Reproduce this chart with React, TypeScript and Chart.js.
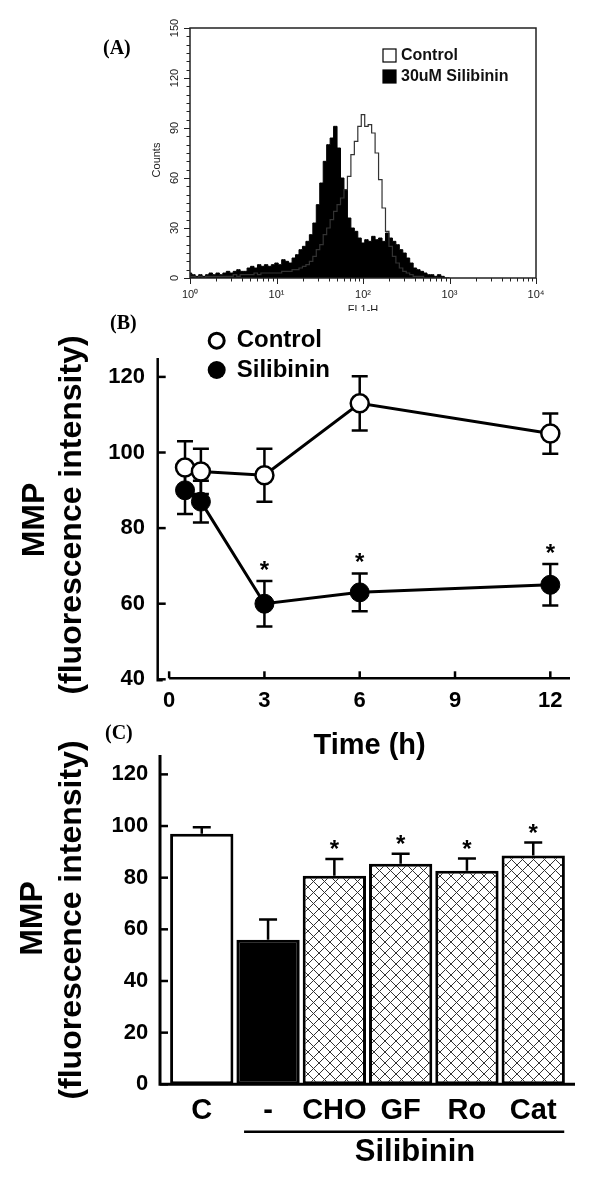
import React, { useEffect, useRef } from "react";
import { Chart, registerables } from "chart.js";

Chart.register(...registerables);

const SANS = '"Liberation Sans", Arial, Helvetica, sans-serif';
const SERIF = '"Liberation Serif", "Times New Roman", serif';

// ---------------- Panel A: flow cytometry histogram ----------------
const flChannels = [
  1.0, 1.096, 1.202, 1.318, 1.445, 1.585, 1.738, 1.905, 2.089, 2.291,
  2.512, 2.754, 3.02, 3.311, 3.631, 3.981, 4.365, 4.786, 5.248, 5.754,
  6.31, 6.918, 7.586, 8.318, 9.12, 10.0, 10.96, 12.02, 13.18, 14.45,
  15.85, 17.38, 19.05, 20.89, 22.91, 25.12, 27.54, 30.2, 33.11, 36.31,
  39.81, 43.65, 47.86, 52.48, 57.54, 63.1, 69.18, 75.86, 83.18, 91.2,
  100.0, 109.6, 120.2, 131.8, 144.5, 158.5, 173.8, 190.5, 208.9, 229.1,
  251.2, 275.4, 302.0, 331.1, 363.1, 398.1, 436.5, 478.6, 524.8, 575.4,
  631.0, 691.8, 758.6, 831.8, 912.0, 1000.0,
];
const silibininCounts = [
  3, 2, 1, 2, 1, 2, 3, 2, 3, 2,
  3, 4, 3, 4, 5, 4, 4, 6, 7, 6,
  8, 7, 8, 7, 8, 9, 8, 11, 10, 9,
  12, 14, 17, 19, 22, 26, 33, 44, 57, 70,
  80, 84, 91, 78, 60, 53, 36, 30, 28, 24,
  21, 23, 22, 25, 23, 24, 22, 27, 24, 22,
  20, 17, 15, 12, 9, 6, 5, 4, 3, 2,
  2, 1, 2, 1, 0, 0,
];
const controlCounts = [
  1, 1, 0, 1, 0, 1, 1, 1, 1, 1,
  1, 1, 1, 2, 1, 2, 2, 2, 2, 3,
  2, 3, 3, 3, 3, 3, 3, 4, 4, 4,
  5, 5, 6, 7, 8, 10, 13, 17, 20, 26,
  30, 35, 40, 44, 48, 53, 61, 74, 82, 91,
  98, 91, 92, 87, 75, 59, 42, 28, 19, 13,
  9, 6, 4, 3, 2, 1, 1, 1, 0, 0,
  0, 0, 0, 0, 0, 0,
];
const histSeriesLabels = ["Control", "30uM Silibinin"];
const histXTicks = [1, 10, 100, 1000, 10000];
const histXTickLabels = ["10\u2070", "10\u00B9", "10\u00B2", "10\u00B3", "10\u2074"];
const histYTicks = [0, 30, 60, 90, 120, 150];
const histXTitle = "FL1-H";
const histYTitle = "Counts";

// ---------------- Panel B: MMP time course ----------------
const timePoints = [0.5, 1, 3, 6, 12];
const controlMMP = [96, 95, 94, 113, 105];
const controlSD = [7, 6, 7, 7.2, 5.3];
const silibininMMP = [90, 87, 60, 63, 65];
const silibininSD = [6.3, 5.5, 6, 5, 5.5];
const silibininStar = [false, false, true, true, true];
const timeTicks = [0, 3, 6, 9, 12];
const mmpTicksB = [40, 60, 80, 100, 120];
const lineSeriesLabels = ["Control", "Silibinin"];
const timeTitle = "Time (h)";

// ---------------- Panel C: treatments ----------------
const treatments = ["C", "-", "CHO", "GF", "Ro", "Cat"];
const treatmentMMP = [97, 56, 80.7, 85.4, 82.7, 88.6];
const treatmentSD = [2.5, 7.8, 6.5, 3.9, 4.7, 5.0];
const treatmentStar = [false, false, true, true, true, true];
const mmpTicksC = [0, 20, 40, 60, 80, 100, 120];
const groupLabel = "Silibinin";

const yTitleLines = ["MMP", "(fluorescence intensity)"];

// ---------------- helpers ----------------
function drawRotated(ctx: any, text: string, x: number, y: number, font: string) {
  ctx.save();
  ctx.translate(x, y);
  ctx.rotate(-Math.PI / 2);
  ctx.font = font;
  ctx.textAlign = "center";
  ctx.textBaseline = "middle";
  ctx.fillText(text, 0, 0);
  ctx.restore();
}

function drawStar(ctx: any, x: number, y: number) {
  ctx.save();
  ctx.fillStyle = "#000";
  ctx.font = `bold 24px ${SANS}`;
  ctx.textAlign = "center";
  ctx.textBaseline = "middle";
  ctx.fillText("*", x, y);
  ctx.restore();
}

function makeHatch(): any {
  const s = 11;
  const c = document.createElement("canvas");
  c.width = s;
  c.height = s;
  const g = c.getContext("2d")!;
  g.fillStyle = "#fff";
  g.fillRect(0, 0, s, s);
  g.strokeStyle = "#333";
  g.lineWidth = 1;
  g.beginPath();
  g.moveTo(-1, -1);
  g.lineTo(s + 1, s + 1);
  g.moveTo(s + 1, -1);
  g.lineTo(-1, s + 1);
  g.stroke();
  return g.createPattern(c, "repeat");
}

const hiddenGrid = { display: false, drawTicks: false };
const hiddenBorder = { display: false };

// ---------------- configs ----------------
function histogramConfig(): any {
  const decor = {
    id: "histDecor",
    afterDraw(chart: any) {
      const { ctx, chartArea: a } = chart;
      const x = chart.scales.x;
      const y = chart.scales.y;
      ctx.save();
      ctx.strokeStyle = "#222";
      ctx.lineWidth = 1.5;
      ctx.strokeRect(a.left, a.top, a.right - a.left, a.bottom - a.top);
      ctx.lineWidth = 1;
      // y ticks (outward)
      for (let v = 0; v <= 150; v += 5) {
        const py = Math.round(y.getPixelForValue(v)) + 0.5;
        const len = v % 30 === 0 ? 6 : 3.5;
        ctx.beginPath();
        ctx.moveTo(a.left, py);
        ctx.lineTo(a.left - len, py);
        ctx.stroke();
      }
      // x ticks (outward)
      for (let d = 1; d <= 10000; d *= 10) {
        for (let m = 1; m < 10; m++) {
          const v = d * m;
          if (v > 10000) break;
          const px = Math.round(x.getPixelForValue(v)) + 0.5;
          const len = m === 1 ? 6 : 3.5;
          ctx.beginPath();
          ctx.moveTo(px, a.bottom);
          ctx.lineTo(px, a.bottom + len);
          ctx.stroke();
        }
      }
      // y tick labels, rotated
      ctx.fillStyle = "#222";
      histYTicks.forEach((v) => {
        drawRotated(ctx, String(v), 175, y.getPixelForValue(v), `11px ${SANS}`);
      });
      drawRotated(ctx, histYTitle, 157, 160, `11px ${SANS}`);
      // x title
      ctx.font = `11px ${SANS}`;
      ctx.textAlign = "center";
      ctx.textBaseline = "top";
      ctx.fillText(histXTitle, (a.left + a.right) / 2, 304);
      // panel label
      ctx.fillStyle = "#000";
      ctx.font = `bold 20px ${SERIF}`;
      ctx.textAlign = "left";
      ctx.textBaseline = "middle";
      ctx.fillText("(A)", 103, 49);
      // legend
      const ds = chart.data.datasets;
      const rows = [55.5, 76.5];
      ds.forEach((d: any, i: number) => {
        const ty = rows[i];
        ctx.fillStyle = i === 0 ? "#fff" : "#000";
        ctx.fillRect(383, ty - 6.5, 13, 13);
        ctx.strokeStyle = "#000";
        ctx.lineWidth = 1.2;
        ctx.strokeRect(383, ty - 6.5, 13, 13);
        ctx.fillStyle = "#111";
        ctx.font = `bold 16px ${SANS}`;
        ctx.textAlign = "left";
        ctx.textBaseline = "middle";
        ctx.fillText(d.label, 401, ty);
      });
      ctx.restore();
    },
  };
  return {
    type: "line",
    data: {
      datasets: [
        {
          label: histSeriesLabels[0],
          data: flChannels.map((v, i) => ({ x: v, y: controlCounts[i] })),
          borderColor: "#333",
          borderWidth: 1.2,
          pointRadius: 0,
          fill: false,
          stepped: "middle",
        },
        {
          label: histSeriesLabels[1],
          data: flChannels.map((v, i) => ({ x: v, y: silibininCounts[i] })),
          borderColor: "#000",
          backgroundColor: "#000",
          borderWidth: 1,
          pointRadius: 0,
          fill: "origin",
          stepped: "middle",
        },
      ],
    },
    options: {
      animation: false,
      responsive: false,
      devicePixelRatio: 1,
      events: [],
      layout: { padding: { top: 28, right: 64, left: 0, bottom: 0 } },
      plugins: { legend: { display: false }, tooltip: { enabled: false } },
      scales: {
        x: {
          type: "logarithmic",
          min: 1,
          max: 10000,
          grid: hiddenGrid,
          border: hiddenBorder,
          afterBuildTicks: (s: any) => {
            s.ticks = histXTicks.map((v) => ({ value: v }));
          },
          afterFit: (s: any) => {
            s.height = 311 - 278;
          },
          ticks: {
            autoSkip: false,
            maxRotation: 0,
            minRotation: 0,
            padding: 10,
            color: "#222",
            font: { family: SANS, size: 11 },
            callback: (v: any) => histXTickLabels[histXTicks.indexOf(Number(v))] ?? "",
          },
        },
        y: {
          min: 0,
          max: 150,
          grid: hiddenGrid,
          border: hiddenBorder,
          afterBuildTicks: (s: any) => {
            s.ticks = histYTicks.map((v) => ({ value: v }));
          },
          afterFit: (s: any) => {
            s.width = 190;
          },
          ticks: { display: false },
        },
      },
    },
    plugins: [decor],
  };
}

function timeCourseConfig(): any {
  const sds = [controlSD, silibininSD];
  const decor = {
    id: "timeDecor",
    beforeDatasetsDraw(chart: any) {
      const { ctx } = chart;
      const x = chart.scales.x;
      const y = chart.scales.y;
      ctx.save();
      ctx.strokeStyle = "#000";
      ctx.lineWidth = 2.5;
      chart.data.datasets.forEach((d: any, di: number) => {
        d.data.forEach((p: any, i: number) => {
          const px = x.getPixelForValue(p.x);
          const top = y.getPixelForValue(p.y + sds[di][i]);
          const bot = y.getPixelForValue(p.y - sds[di][i]);
          ctx.beginPath();
          ctx.moveTo(px, top);
          ctx.lineTo(px, bot);
          ctx.moveTo(px - 8, top);
          ctx.lineTo(px + 8, top);
          ctx.moveTo(px - 8, bot);
          ctx.lineTo(px + 8, bot);
          ctx.stroke();
        });
      });
      ctx.restore();
    },
    afterDraw(chart: any) {
      const { ctx, chartArea: a } = chart;
      const x = chart.scales.x;
      const y = chart.scales.y;
      ctx.save();
      ctx.strokeStyle = "#000";
      ctx.fillStyle = "#000";
      ctx.lineWidth = 2.5;
      // axes
      ctx.beginPath();
      ctx.moveTo(a.left, a.top);
      ctx.lineTo(a.left, a.bottom + 1);
      ctx.lineTo(a.left + 5, a.bottom + 1);
      ctx.moveTo(x.getPixelForValue(0), a.bottom - 1);
      ctx.lineTo(a.right, a.bottom - 1);
      ctx.stroke();
      mmpTicksB.forEach((v) => {
        const py = y.getPixelForValue(v);
        ctx.beginPath();
        ctx.moveTo(a.left, py);
        ctx.lineTo(a.left + 8, py);
        ctx.stroke();
      });
      timeTicks.forEach((v) => {
        const px = x.getPixelForValue(v);
        ctx.beginPath();
        ctx.moveTo(px, a.bottom - 1);
        ctx.lineTo(px, a.bottom - 8);
        ctx.stroke();
      });
      // significance
      timePoints.forEach((t, i) => {
        if (!silibininStar[i]) return;
        const capTop = y.getPixelForValue(silibininMMP[i] + silibininSD[i]);
        drawStar(ctx, x.getPixelForValue(t), capTop - 10);
      });
      // legend
      const ds = chart.data.datasets;
      const rows = [40.7, 70];
      ds.forEach((d: any, i: number) => {
        const cy = rows[i];
        ctx.beginPath();
        if (i === 0) {
          ctx.arc(216.7, cy, 7.5, 0, Math.PI * 2);
          ctx.fillStyle = "#fff";
          ctx.fill();
          ctx.lineWidth = 3;
          ctx.strokeStyle = "#000";
          ctx.stroke();
        } else {
          ctx.arc(216.7, cy, 9, 0, Math.PI * 2);
          ctx.fillStyle = "#000";
          ctx.fill();
        }
        ctx.fillStyle = "#000";
        ctx.font = `bold 24px ${SANS}`;
        ctx.textAlign = "left";
        ctx.textBaseline = "middle";
        ctx.fillText(d.label, 236.7, cy);
      });
      // panel label
      ctx.font = `bold 20px ${SERIF}`;
      ctx.textAlign = "left";
      ctx.fillText("(B)", 110, 24);
      // titles
      ctx.font = `bold 29px ${SANS}`;
      ctx.textAlign = "center";
      ctx.fillText(timeTitle, (x.getPixelForValue(0) + a.right) / 2, 446);
      drawRotated(ctx, yTitleLines[0], 35, 220, `bold 32px ${SANS}`);
      drawRotated(ctx, yTitleLines[1], 72, 215, `bold 32px ${SANS}`);
      ctx.restore();
    },
  };
  return {
    type: "line",
    data: {
      datasets: [
        {
          label: lineSeriesLabels[0],
          data: timePoints.map((t, i) => ({ x: t, y: controlMMP[i] })),
          borderColor: "#000",
          borderWidth: 3,
          pointRadius: 9,
          pointBackgroundColor: "#fff",
          pointBorderColor: "#000",
          pointBorderWidth: 2.5,
          fill: false,
        },
        {
          label: lineSeriesLabels[1],
          data: timePoints.map((t, i) => ({ x: t, y: silibininMMP[i] })),
          borderColor: "#000",
          borderWidth: 3,
          pointRadius: 9.5,
          pointBackgroundColor: "#000",
          pointBorderColor: "#000",
          pointBorderWidth: 1,
          fill: false,
        },
      ],
    },
    options: {
      animation: false,
      responsive: false,
      devicePixelRatio: 1,
      events: [],
      layout: { padding: { top: 58, right: 30, left: 0, bottom: 0 } },
      plugins: { legend: { display: false }, tooltip: { enabled: false } },
      scales: {
        x: {
          type: "linear",
          min: -0.36,
          max: 12.62,
          offset: false,
          grid: hiddenGrid,
          border: hiddenBorder,
          afterBuildTicks: (s: any) => {
            s.ticks = timeTicks.map((v) => ({ value: v }));
          },
          afterFit: (s: any) => {
            s.height = 480 - 379.3;
          },
          ticks: {
            autoSkip: false,
            maxRotation: 0,
            padding: 8.5,
            color: "#000",
            font: { family: SANS, size: 22, weight: "bold" },
          },
        },
        y: {
          min: 40,
          max: 125,
          grid: hiddenGrid,
          border: hiddenBorder,
          afterBuildTicks: (s: any) => {
            s.ticks = mmpTicksB.map((v) => ({ value: v }));
          },
          afterFit: (s: any) => {
            s.width = 157.7;
          },
          ticks: {
            padding: 12.7,
            color: "#000",
            font: { family: SANS, size: 22, weight: "bold" },
          },
        },
      },
    },
    plugins: [decor],
  };
}

function treatmentConfig(): any {
  const hatch = makeHatch();
  const decor = {
    id: "barDecor",
    afterDraw(chart: any) {
      const { ctx, chartArea: a } = chart;
      const x = chart.scales.x;
      const y = chart.scales.y;
      ctx.save();
      ctx.strokeStyle = "#000";
      ctx.fillStyle = "#000";
      ctx.lineWidth = 3;
      // axes
      ctx.beginPath();
      ctx.moveTo(a.left, a.top);
      ctx.lineTo(a.left, a.bottom);
      ctx.lineTo(a.right, a.bottom);
      ctx.stroke();
      ctx.lineWidth = 2.5;
      mmpTicksC.forEach((v) => {
        const py = y.getPixelForValue(v);
        ctx.beginPath();
        ctx.moveTo(a.left, py);
        ctx.lineTo(a.left + 8, py);
        ctx.stroke();
      });
      // error bars (upper) and stars
      treatments.forEach((_, i) => {
        const px = x.getPixelForValue(i);
        const top = y.getPixelForValue(treatmentMMP[i]);
        const cap = y.getPixelForValue(treatmentMMP[i] + treatmentSD[i]);
        ctx.beginPath();
        ctx.moveTo(px, top);
        ctx.lineTo(px, cap);
        ctx.moveTo(px - 9, cap);
        ctx.lineTo(px + 9, cap);
        ctx.stroke();
        if (treatmentStar[i]) drawStar(ctx, px, cap - 8.6);
      });
      // group bracket
      const x0 = x.getPixelForValue(1) - 24;
      const x1 = x.getPixelForValue(treatments.length - 1) + 31;
      ctx.lineWidth = 2.5;
      ctx.beginPath();
      ctx.moveTo(x0, 431.7);
      ctx.lineTo(x1, 431.7);
      ctx.stroke();
      ctx.font = `bold 31px ${SANS}`;
      ctx.textAlign = "center";
      ctx.textBaseline = "middle";
      ctx.fillText(groupLabel, 415, 452);
      // panel label
      ctx.font = `bold 20px ${SERIF}`;
      ctx.textAlign = "left";
      ctx.fillText("(C)", 105, 34);
      drawRotated(ctx, yTitleLines[0], 33, 218.5, `bold 32px ${SANS}`);
      drawRotated(ctx, yTitleLines[1], 72, 220, `bold 32px ${SANS}`);
      ctx.restore();
    },
  };
  return {
    type: "bar",
    data: {
      datasets: [
        {
          data: treatments.map((_, i) => ({ x: i, y: treatmentMMP[i] })),
          backgroundColor: ["#fff", "#000", hatch, hatch, hatch, hatch],
          borderColor: "#000",
          borderWidth: 3,
          borderSkipped: false,
          barPercentage: 0.955,
          categoryPercentage: 1,
        },
      ],
    },
    options: {
      animation: false,
      responsive: false,
      devicePixelRatio: 1,
      events: [],
      layout: { padding: { top: 55, right: 25, left: 0, bottom: 0 } },
      plugins: { legend: { display: false }, tooltip: { enabled: false } },
      scales: {
        x: {
          type: "linear",
          min: -0.63,
          max: 5.63,
          offset: false,
          grid: hiddenGrid,
          border: hiddenBorder,
          afterBuildTicks: (s: any) => {
            s.ticks = treatments.map((_, i) => ({ value: i }));
          },
          afterFit: (s: any) => {
            s.height = 486 - 384.3;
          },
          ticks: {
            autoSkip: false,
            maxRotation: 0,
            padding: 9.3,
            color: "#000",
            font: { family: SANS, size: 29, weight: "bold" },
            callback: (v: any) => treatments[Math.round(Number(v))] ?? "",
          },
        },
        y: {
          min: 0,
          max: 127.5,
          grid: hiddenGrid,
          border: hiddenBorder,
          afterBuildTicks: (s: any) => {
            s.ticks = mmpTicksC.map((v) => ({ value: v }));
          },
          afterFit: (s: any) => {
            s.width = 160;
          },
          ticks: {
            padding: 11.7,
            color: "#000",
            font: { family: SANS, size: 22, weight: "bold" },
          },
        },
      },
    },
    plugins: [decor],
  };
}

export default function App() {
  const aRef = useRef<HTMLCanvasElement>(null);
  const bRef = useRef<HTMLCanvasElement>(null);
  const cRef = useRef<HTMLCanvasElement>(null);

  useEffect(() => {
    const charts: Chart[] = [];
    if (aRef.current) charts.push(new Chart(aRef.current, histogramConfig()));
    if (bRef.current) charts.push(new Chart(bRef.current, timeCourseConfig()));
    if (cRef.current) charts.push(new Chart(cRef.current, treatmentConfig()));
    return () => charts.forEach((c) => c.destroy());
  }, []);

  return (
    <div
      style={{
        position: "absolute",
        left: 0,
        top: 0,
        width: 600,
        height: 1186,
        background: "#fff",
        overflow: "hidden",
      }}
    >
      <canvas ref={aRef} width={600} height={311} style={{ position: "absolute", left: 0, top: 0 }} />
      <canvas ref={bRef} width={600} height={480} style={{ position: "absolute", left: 0, top: 300 }} />
      <canvas ref={cRef} width={600} height={486} style={{ position: "absolute", left: 0, top: 700 }} />
    </div>
  );
}
